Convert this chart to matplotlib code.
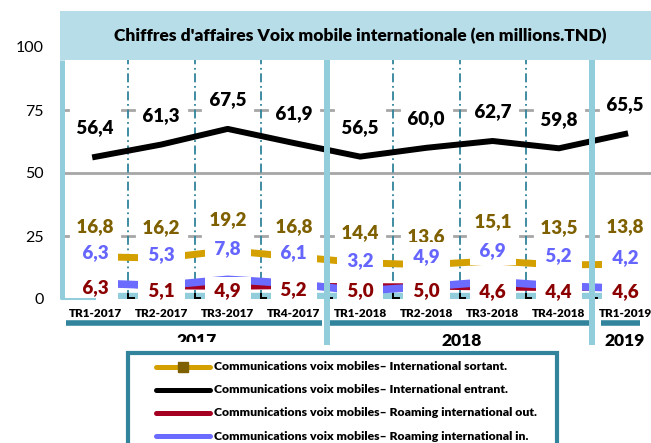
import matplotlib
matplotlib.use("Agg")
import matplotlib.pyplot as plt
from matplotlib.patches import Rectangle
from matplotlib.lines import Line2D
from matplotlib.transforms import Bbox
import matplotlib.transforms as mtrans

plt.rcParams['font.family'] = ['Lato', 'DejaVu Sans']

# donnees (millions TND)
trimestres = ["TR1-2017", "TR2-2017", "TR3-2017", "TR4-2017",
              "TR1-2018", "TR2-2018", "TR3-2018", "TR4-2018", "TR1-2019"]
intl_entrant = [56.4, 61.3, 67.5, 61.9, 56.5, 60.0, 62.7, 59.8, 65.5]
intl_sortant = [16.8, 16.2, 19.2, 16.8, 14.4, 13.6, 15.1, 13.5, 13.8]
roaming_in = [6.3, 5.3, 7.8, 6.1, 3.2, 4.9, 6.9, 5.2, 4.2]
roaming_out = [6.3, 5.1, 4.9, 5.2, 5.0, 5.0, 4.6, 4.4, 4.6]
annees = ["2017", "2018", "2019"]
annee_debut = [0, 4, 8]
annee_fin = [3, 7, 8]
yticks = [0, 25, 50, 75, 100]

# decalage des etiquettes "sortant" (points), certaines deplacees a la main
sortant_dy = [22, 22, 22, 22, 22, 20, 28, 27, 27]

W, H = 651, 443
def fx(x, y):
    return (x / W, 1 - y / H)

teal = "#31849B"
light_blue = "#92CDDC"
gold = "#D4A000"
gold_txt = "#7F6000"
blue_line = "#6B6BFF"
blue_txt = "#6666FF"
red_line = "#A50021"
red_txt = "#8B0000"
wt = "heavy"

fig = plt.figure(figsize=(W / 100, H / 100), dpi=100)
ax = fig.add_axes([62 / W, 144 / H, 589 / W, 252 / H])
n = len(trimestres)
x = list(range(n))
ax.set_xlim(-0.5, 8.39)
ax.set_ylim(0, 100)
for s in ax.spines.values():
    s.set_visible(False)
ax.set_yticks(yticks)
ax.set_yticklabels([str(v) for v in yticks], fontsize=11.5)
ax.set_xticks(x)
ax.set_xticklabels(trimestres, fontsize=8.5, fontweight=wt)
ax.tick_params(length=0)
ax.tick_params(axis='y', pad=13)
ax.tick_params(axis='x', pad=6.5)

bounds = [i + 0.5 for i in range(n - 1)]
trans_x = mtrans.blended_transform_factory(ax.transData, ax.transAxes)

# grille
ax.axhline(50, color="#A6A6A6", lw=2, zorder=1)
for yv in (25, 75):
    for b in [-0.5] + bounds:
        ax.plot([b - 0.09 if b > 0 else b, b + 0.09], [yv, yv], color="#A6A6A6", lw=2, zorder=1)

# separateurs pointilles
for b in bounds:
    if b in (3.5, 7.5):
        continue
    ax.plot([b, b], [0, 0.948], transform=trans_x, color=teal, lw=1.3,
            linestyle=(0, (5, 2, 1, 2)), zorder=2, clip_on=False)

# petits reperes en bas
for b in bounds:
    ax.add_patch(Rectangle((b - 0.16, 0), 0.32, 2.4, color=light_blue, zorder=1))
    ax.plot([b, b], [0.3, 1.8], color="black", lw=1.4, zorder=2)
    ax.plot([b, b + 0.08], [0.3, 0.3], color="black", lw=1.4, zorder=2)

# series
ax.plot(x, intl_sortant, color=gold, lw=5, zorder=3)
ax.plot(x, roaming_out, color=red_line, lw=4.5, zorder=3)
ax.plot(x, roaming_in, color=blue_line, lw=5.5, zorder=3)
ax.plot(x, intl_entrant, color="black", lw=4.3, zorder=3)

def fmt(v):
    return " " + f"{v:.1f}".replace(".", ",") + " "

box = dict(boxstyle="square,pad=0.3", fc="white", ec="none")
lab_kw = dict(textcoords="offset points", ha="center", va="center",
              fontsize=13.5, fontweight=wt)
for i in x:
    ax.annotate(fmt(intl_entrant[i]), (i, intl_entrant[i]), xytext=(0, 21),
                color="black", zorder=5, **lab_kw)
    ax.annotate(fmt(intl_sortant[i]), (i, intl_sortant[i]), xytext=(0, sortant_dy[i]),
                color=gold_txt, zorder=5, **lab_kw)
    ax.annotate(fmt(roaming_in[i]), (i, roaming_in[i]), xytext=(0, 22),
                color=blue_txt, zorder=6, bbox=box, **lab_kw)
    ax.annotate(fmt(roaming_out[i]), (i, roaming_out[i]), xytext=(0, -3),
                color=red_txt, zorder=7, bbox=box, **lab_kw)

# barres bleu clair verticales
ax.plot([-0.5, -0.5], [0, 0.948], transform=trans_x, color=light_blue, lw=3.6,
        zorder=8, clip_on=False, solid_capstyle="butt")
ax.plot([-0.5, 0], [0, 0], color=light_blue, lw=1.5, zorder=8, clip_on=False)
for b in (3.5, 7.5):
    ax.plot([b, b], [-0.183, 0.948], transform=trans_x, color=light_blue, lw=4.3,
            zorder=8, clip_on=False, solid_capstyle="butt")

# groupes d'annees
starts = [-0.44, 3.55, 7.64]
ends = [3.43, 7.47, 8.23]
for lab, d, f, s0, e0 in zip(annees, annee_debut, annee_fin, starts, ends):
    ax.plot([s0, e0], [-0.095, -0.095], transform=trans_x, color=teal, lw=4,
            clip_on=False, solid_capstyle="butt", zorder=4)
    xc = (d + f) / 2
    t = ax.text(xc + (0.03 if d != f else 0), -0.168, lab, transform=trans_x,
                ha="center", va="center", fontsize=12.5, fontweight=wt, zorder=4)
    if lab == "2017":
        # coupe par le bord de la zone du graphique
        t.set_clip_box(Bbox([[0, H - 342], [W, H]]))
        t.set_clip_on(True)

# titre
tx, ty = fx(60, 60)
fig.patches.append(Rectangle((tx, ty), (651 - 60) / W, 49 / H, transform=fig.transFigure,
                             fc="#B7DEE8", ec="none", zorder=0))
fig.text(*fx(360, 36), "Chiffres d'affaires Voix mobile internationale (en millions.TND)",
         ha="center", va="center", fontsize=12.5, fontweight=wt)

# legende
lx, ly = fx(128, 455)
fig.patches.append(Rectangle((lx, ly), (557 - 128) / W, (455 - 353) / H, transform=fig.transFigure,
                             fc="white", ec=teal, lw=3, zorder=10))
legend_items = [
    ("Communications voix mobiles\u2013 International sortant.", gold),
    ("Communications voix mobiles\u2013 International entrant.", "black"),
    ("Communications voix mobiles\u2013 Roaming international out.", red_line),
    ("Communications voix mobiles\u2013 Roaming international in.", blue_line),
]
rows = [366.5, 389.5, 412.5, 436]
for (lab, c), ry in zip(legend_items, rows):
    x0, y0 = fx(156, ry)
    x1, _ = fx(210, ry)
    fig.add_artist(Line2D([x0, x1], [y0, y0], color=c, lw=3.6, zorder=11,
                          solid_capstyle="round", transform=fig.transFigure))
    fig.text(*fx(214, ry), lab, ha="left", va="center", fontsize=8.8,
             fontweight=wt, zorder=11)
mx, my = fx(183, rows[0])
fig.add_artist(Line2D([mx], [my], marker="s", markersize=7, color=gold_txt, zorder=12,
                      transform=fig.transFigure))

fig.savefig("out.png", dpi=100)
